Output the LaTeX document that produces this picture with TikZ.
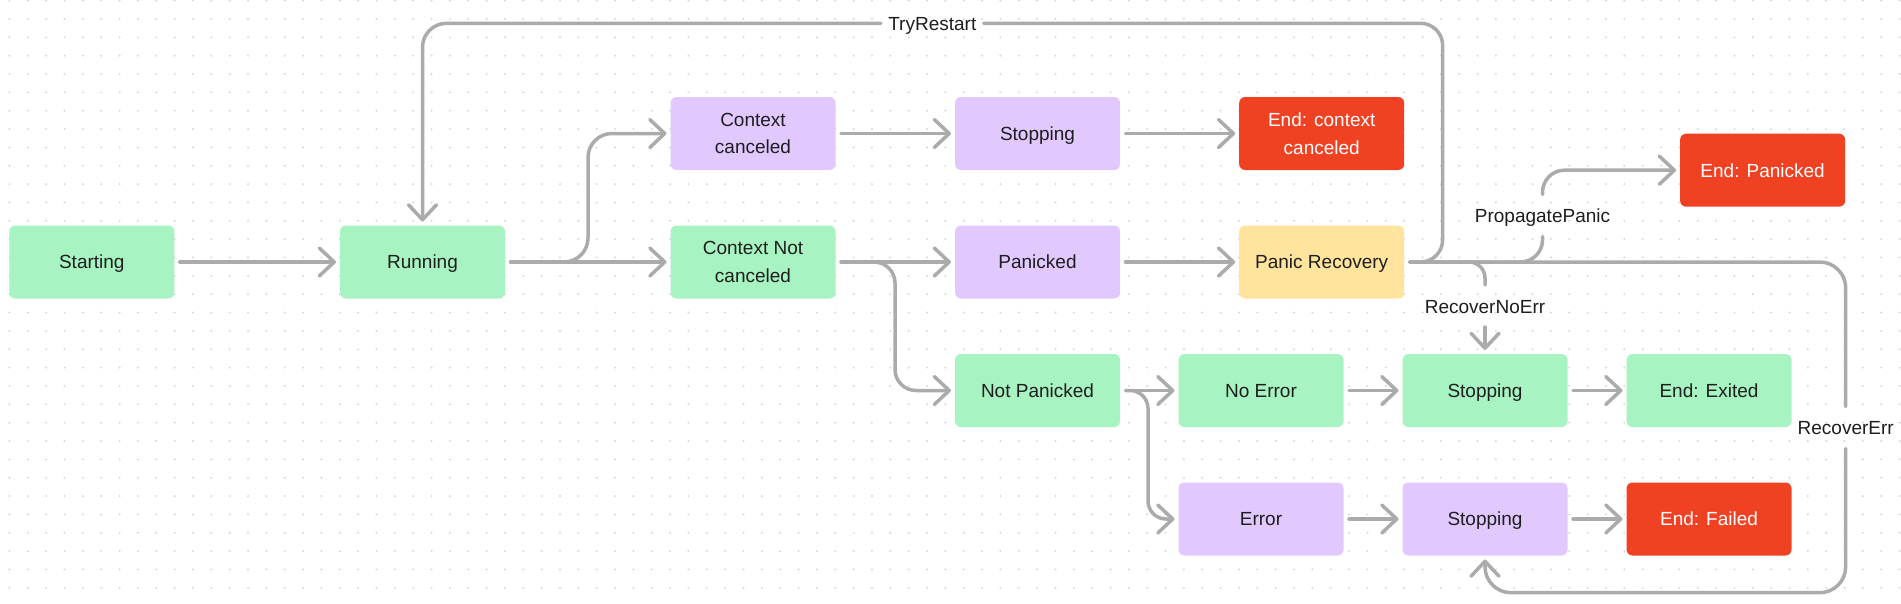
\documentclass[tikz,border=0pt]{standalone}
\usepackage{fontspec}
\setmainfont{Liberation Sans}
\usetikzlibrary{arrows.meta}
\definecolor{cgreen}{HTML}{A7F3C1}
\definecolor{cpurple}{HTML}{E1C8FE}
\definecolor{cyellow}{HTML}{FFE49D}
\definecolor{cred}{HTML}{F14123}
\definecolor{txt}{HTML}{1E1E1E}
\definecolor{lgray}{HTML}{ABABAB}
\definecolor{dotc}{HTML}{D8D8D8}
\begin{document}
\begin{tikzpicture}[x=1pt,y=-1pt,
  box/.style={rounded corners=6pt, minimum width=165pt, minimum height=73pt,
    inner sep=0pt, outer sep=0pt, align=center, text depth=0pt,
    font=\fontsize{19}{27.3}\selectfont, text=txt},
  gbox/.style={box, fill=cgreen},
  pbox/.style={box, fill=cpurple},
  ybox/.style={box, fill=cyellow},
  rbox/.style={box, fill=cred, text=white},
  conn/.style={draw=lgray, line width=3.5pt, line cap=round, line join=round, shorten <=5.5pt},
  arr/.style={conn, -{Straight Barb[length=15pt,width=28pt,round]}, shorten >=4pt},
  lbl/.style={font=\fontsize{19}{23}\selectfont, text=txt, inner xsep=7.5pt,
    inner ysep=14pt, text height=14pt, text depth=0pt, outer sep=0pt},
]
\useasboundingbox (0,0) rectangle (1901,603);
\fill[white] (0,0) rectangle (1901,603);
\foreach \i in {0,...,103}{\foreach \j in {0,...,32}{\fill[dotc] (9.5+18.35*\i, 0.6+18.35*\j) circle[radius=1.1pt];}}

% nodes
\node[gbox] (st) at (91.8,262) {Starting};
\node[gbox] (ru) at (422.5,262) {Running};
\node[pbox] (cc) at (753,133.5) {Context\\canceled};
\node[gbox] (cn) at (753,262) {Context Not\\canceled};
\node[pbox] (s1) at (1037.5,133.5) {Stopping};
\node[rbox] (ec) at (1321.7,133.5) {End: context\\canceled};
\node[pbox] (pa) at (1037.5,262) {Panicked};
\node[ybox] (pr) at (1321.7,262) {Panic Recovery};
\node[rbox] (ep) at (1762.6,170.2) {End: Panicked};
\node[gbox] (np) at (1037.5,390.5) {Not Panicked};
\node[gbox] (ne) at (1261,390.5) {No Error};
\node[gbox] (s2) at (1485,390.5) {Stopping};
\node[gbox] (ex) at (1709,390.5) {End: Exited};
\node[pbox] (er) at (1261,519) {Error};
\node[pbox] (s3) at (1485,519) {Stopping};
\node[rbox] (ef) at (1709,519) {End: Failed};

% labels
\node[lbl] (lTR) at (932.3,23.3) {TryRestart};
\node[lbl] (lPP) at (1542.5,215.5) {PropagatePanic};
\node[lbl] (lNE) at (1485,306) {RecoverNoErr};
\node[lbl] (lRE) at (1845.7,427.5) {RecoverErr};

% connectors
\draw[arr] (st.east) -- (ru.west);
\draw[arr] (ru.east) -- (cn.west);
\draw[arr, rounded corners=24pt] (ru.east) -- ++(83,0) |- (cc.west);
\draw[arr] (cc.east) -- (s1.west);
\draw[arr] (s1.east) -- (ec.west);
\draw[arr] (cn.east) -- (pa.west);
\draw[arr, rounded corners=21pt] (cn.east) -- ++(59.5,0) |- (np.west);
\draw[arr] (pa.east) -- (pr.west);
\draw[arr] (np.east) -- (ne.west);
\draw[arr, rounded corners=18pt] (np.east) -- ++(28,0) |- (er.west);
\draw[arr] (ne.east) -- (s2.west);
\draw[arr] (s2.east) -- (ex.west);
\draw[arr] (er.east) -- (s3.west);
\draw[arr] (s3.east) -- (ef.west);

\draw[conn, rounded corners=22pt] (pr.east) -- (1442.6,262) |- (lTR.east);
\draw[arr, shorten <=0pt, rounded corners=24pt] (lTR.west) -| (ru.north);
\draw[conn, rounded corners=22pt] (pr.east) -| (lPP.south);
\draw[arr, shorten <=0pt, rounded corners=22pt] (lPP.north) |- (ep.west);
\draw[conn, rounded corners=16pt] (pr.east) -| (lNE.north);
\draw[arr, shorten <=0pt] (lNE.south) -- (s2.north);
\draw[conn, rounded corners=26pt] (pr.east) -| (lRE.north);
\draw[arr, shorten <=0pt, rounded corners=26pt] (lRE.south) -- (1845.7,592.7) -| (s3.south);
\end{tikzpicture}
\end{document}
